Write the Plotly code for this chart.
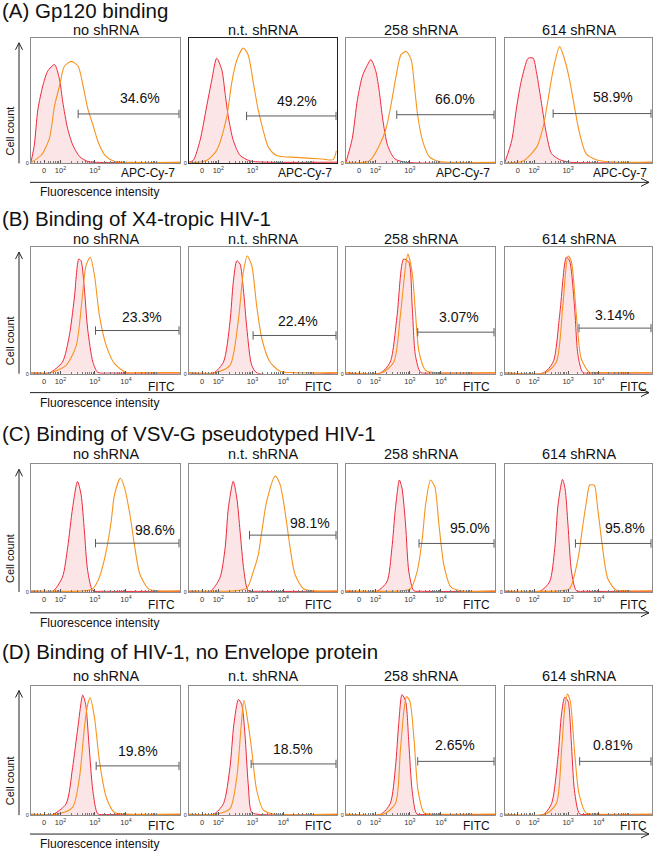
import plotly.graph_objects as go

W, H = 654, 853
FONT = "Arial, 'Liberation Sans', Helvetica, sans-serif"

# ---------------- data ----------------
row_titles = ["(A) Gp120 binding", "(B) Binding of X4-tropic HIV-1",
              "(C) Binding of VSV-G pseudotyped HIV-1",
              "(D) Binding of HIV-1, no Envelope protein"]
col_titles = ["no shRNA", "n.t. shRNA", "258 shRNA", "614 shRNA"]
channels = ["APC-Cy-7", "FITC", "FITC", "FITC"]

tick_vals_a = [1.5, 2.0, 3.05]
tick_text_a = ["0", "10<sup>2</sup>", "10<sup>3</sup>"]
tick_vals_bcd = [1.5, 2.0, 3.05, 4.0]
tick_text_bcd = ["0", "10<sup>2</sup>", "10<sup>3</sup>", "10<sup>4</sup>"]
minor_vals = [1.2, 1.3, 1.38, 1.62, 1.7, 1.78, 1.85, 1.9, 1.95,
              2.35, 2.53, 2.66, 2.75, 2.83, 2.9, 2.95, 3.0,
              3.35, 3.52, 3.64, 3.73, 3.8, 3.86, 3.91, 3.96,
              4.3, 4.48, 4.6, 4.7, 4.77, 4.83, 4.88, 4.93]

# (x position in decades on display scale, % of panel height)
a1_red = [(1.1,1),(1.2,14.4),(1.31,43),(1.46,61.7),(1.61,73.5),(1.82,78.7),(1.97,67),(2.07,49),(2.22,27.6),(2.38,14.4),(2.59,5.3),(2.84,1.5),(3.2,0.8),(5.65,0.8)]
a1_org = [(1.1,0.8),(1.41,6.5),(1.66,19.7),(1.82,46),(1.97,61.7),(2.12,77.4),(2.33,81.3),(2.54,77.4),(2.69,61.7),(2.84,43),(3.0,30),(3.15,17),(3.36,6.5),(3.66,1.5),(4.2,0.8),(5.65,0.8)]
a2_red = [(1.1,1),(1.23,2.4),(1.44,18.4),(1.64,45),(1.8,66.4),(1.95,83.8),(2.11,74.4),(2.21,55.8),(2.31,37),(2.46,18.4),(2.67,6.4),(2.98,2),(3.5,1),(5.65,1)]
a2_org = [(1.1,0.5),(1.64,2.4),(1.95,10.4),(2.26,37),(2.41,63.8),(2.57,82.4),(2.77,91.8),(2.92,86.4),(3.08,63.8),(3.23,42.4),(3.38,26.4),(3.54,13),(3.79,6.4),(4.41,4.8),(5.2,3.5),(5.53,3),(5.63,10)]
a3_red = [(1.1,1),(1.29,19.7),(1.45,51),(1.6,69.5),(1.76,78.7),(1.86,82.7),(2.01,73.5),(2.12,56.5),(2.22,35.4),(2.37,14.4),(2.58,3.9),(2.9,1),(5.65,0.8)]
a3_org = [(1.1,0.5),(1.81,2),(2.12,14.4),(2.32,27.6),(2.47,46),(2.63,69.5),(2.78,86.6),(2.94,89.2),(3.09,82.7),(3.19,61.7),(3.29,38),(3.45,17),(3.65,5.3),(3.96,1.5),(4.5,0.8),(5.65,0.8)]
a4_red = [(1.1,1),(1.31,18.4),(1.46,45),(1.61,66.4),(1.82,83.8),(1.97,83.8),(2.08,71.8),(2.23,47.8),(2.38,23.8),(2.54,7.8),(2.79,3),(3.1,1),(5.65,0.8)]
a4_org = [(1.1,0.5),(1.66,2),(2.08,13),(2.28,29),(2.43,50.4),(2.59,74.4),(2.79,93),(2.95,82.4),(3.1,66.4),(3.25,45),(3.41,23.8),(3.61,7.8),(3.92,3),(4.5,1),(5.65,1)]

b1_red = [(1.1,0.5),(1.65,0.5),(2.06,9.2),(2.27,30),(2.42,59),(2.56,90.6),(2.63,89),(2.73,67),(2.83,35.4),(2.99,9.2),(3.14,1),(3.5,0.5),(5.65,0.5)]
b1_org = [(1.1,0.8),(1.7,0.8),(2.17,6.5),(2.48,22),(2.66,59),(2.78,85.5),(2.91,92),(3.04,77.4),(3.19,45.9),(3.4,22),(3.65,7.9),(4.01,1),(4.5,0.8),(5.65,0.8)]
b2_red = [(1.1,0.5),(1.85,0.5),(2.16,9.2),(2.36,40.7),(2.46,72),(2.57,89.2),(2.67,86.6),(2.77,67),(2.88,35.4),(3.03,6.5),(3.2,0.5),(5.65,0.5)]
b2_org = [(1.1,0.8),(1.9,0.8),(2.36,6.5),(2.61,40.7),(2.77,80),(2.89,93),(3.03,85.3),(3.18,53.8),(3.34,27.6),(3.59,9.2),(3.9,2),(4.3,0.8),(5.65,0.8)]
b3_red = [(1.1,0.5),(2.15,0.5),(2.45,9.2),(2.66,45.9),(2.86,90.6),(3.02,88),(3.12,53.8),(3.22,14.4),(3.38,1),(3.7,0.5),(5.65,0.5)]
b3_org = [(1.1,0.8),(2.2,0.8),(2.56,9.2),(2.76,45.9),(2.92,85.3),(2.99,94.5),(3.12,80),(3.22,48.6),(3.33,17),(3.53,2.6),(3.8,0.8),(5.65,0.8)]
b4_red = [(1.1,0.5),(2.28,0.5),(2.59,9.2),(2.79,45.9),(3.0,92),(3.1,89),(3.25,53.8),(3.36,14.4),(3.51,1),(3.8,0.5),(5.65,0.5)]
b4_org = [(1.1,0.8),(2.35,0.8),(2.69,9.2),(2.89,53.8),(3.05,93),(3.15,89),(3.31,45.9),(3.46,11.8),(3.72,1),(4.0,0.8),(5.65,0.8)]

c1_red = [(1.1,0.5),(1.76,0.5),(2.06,11.6),(2.22,34.9),(2.37,65.9),(2.52,86.6),(2.63,76.2),(2.73,47.8),(2.83,16.8),(2.99,1),(3.3,0.5),(5.65,0.5)]
c1_org = [(1.1,0.8),(2.7,0.8),(2.99,2.6),(3.19,11.6),(3.4,32.3),(3.55,55.6),(3.65,76.2),(3.83,89.1),(3.96,81.4),(4.12,60.7),(4.27,34.9),(4.42,14.2),(4.68,2.6),(5.0,0.8),(5.65,0.8)]
c2_red = [(1.1,0.5),(1.75,0.5),(2.05,11),(2.21,34.5),(2.31,65.8),(2.46,86.7),(2.57,73.6),(2.67,47.6),(2.79,16.2),(2.92,1),(3.2,0.5),(5.65,0.5)]
c2_org = [(1.1,0.8),(2.5,0.8),(2.88,3),(3.08,16.2),(3.23,29.3),(3.34,47.6),(3.49,71.2),(3.75,90.8),(3.9,84.3),(4.05,63.4),(4.21,34.5),(4.36,13.6),(4.62,2.5),(4.9,0.8),(5.65,0.8)]
c3_red = [(1.1,0.5),(2.04,0.5),(2.35,7.9),(2.5,34),(2.61,65.5),(2.73,87.7),(2.81,81.3),(2.92,52.4),(3.02,15.7),(3.17,1),(3.4,0.5),(5.65,0.5)]
c3_org = [(1.1,0.8),(2.8,0.8),(3.07,2.6),(3.27,15.7),(3.43,41.9),(3.53,68.1),(3.68,87.7),(3.81,82.5),(3.94,52.4),(4.09,21),(4.3,3.9),(4.6,0.8),(5.65,0.8)]
c4_red = [(1.1,0.5),(2.18,0.5),(2.48,7.9),(2.64,34),(2.74,68),(2.88,88.2),(2.96,81),(3.05,52.4),(3.16,15.7),(3.31,1),(3.6,0.5),(5.65,0.5)]
c4_org = [(1.1,0.8),(2.8,0.8),(3.1,2.6),(3.36,26),(3.51,52.4),(3.62,70.7),(3.72,83.8),(3.8,84),(3.87,83.5),(3.97,65.5),(4.11,36.7),(4.28,10.5),(4.53,1.5),(4.8,0.8),(5.65,0.8)]

d1_red = [(1.1,0.5),(1.76,0.5),(2.17,8.7),(2.37,36.7),(2.53,67.4),(2.68,92.6),(2.77,85.4),(2.87,54.6),(2.99,18.8),(3.14,1),(3.4,0.5),(5.65,0.5)]
d1_org = [(1.1,0.8),(1.9,0.8),(2.37,6),(2.58,29),(2.73,67.4),(2.83,85.4),(2.91,90.5),(3.04,75),(3.19,41.7),(3.4,13.6),(3.65,2),(4.0,0.8),(5.65,0.8)]
d2_red = [(1.1,0.5),(1.85,0.5),(2.16,8.9),(2.36,37),(2.48,70.2),(2.62,89.3),(2.72,85.5),(2.82,62.5),(2.92,24.2),(3.03,2),(3.3,0.5),(5.65,0.5)]
d2_org = [(1.1,0.8),(1.95,0.8),(2.36,5),(2.57,29.3),(2.7,67.6),(2.79,88.6),(2.92,70.2),(3.03,49.8),(3.18,19.2),(3.39,3.8),(3.7,0.8),(5.65,0.8)]
d3_red = [(1.1,0.5),(2.15,0.5),(2.45,8.9),(2.61,37),(2.71,70.5),(2.81,93),(2.92,88),(3.02,55),(3.12,19),(3.26,1),(3.5,0.5),(5.65,0.5)]
d3_org = [(1.1,0.8),(2.25,0.8),(2.61,8.9),(2.76,50),(2.87,80.8),(2.95,91.5),(3.05,88),(3.18,57.7),(3.3,19),(3.49,1.5),(3.8,0.8),(5.65,0.8)]
d4_red = [(1.1,0.5),(2.28,0.5),(2.54,8.9),(2.74,44.9),(2.85,78.2),(2.95,91),(3.05,88),(3.15,57.7),(3.25,19),(3.41,1),(3.7,0.5),(5.65,0.5)]
d4_org = [(1.1,0.8),(2.35,0.8),(2.69,8.9),(2.85,50),(2.95,83),(3.03,93.5),(3.12,88),(3.25,50),(3.39,16.6),(3.61,1.5),(3.9,0.8),(5.65,0.8)]

red_curves = [[a1_red, a2_red, a3_red, a4_red], [b1_red, b2_red, b3_red, b4_red],
              [c1_red, c2_red, c3_red, c4_red], [d1_red, d2_red, d3_red, d4_red]]
org_curves = [[a1_org, a2_org, a3_org, a4_org], [b1_org, b2_org, b3_org, b4_org],
              [c1_org, c2_org, c3_org, c4_org], [d1_org, d2_org, d3_org, d4_org]]

gate_end = 5.62
gate_start = [[2.54, 2.87, 2.65, 2.59], [3.07, 3.07, 3.29, 3.39],
              [3.07, 2.96, 3.33, 3.28], [3.09, 3.01, 3.29, 3.41]]
gate_y = [[39.4, 37.8, 38.8, 39.7], [34.1, 30.2, 32.8, 36.0],
          [38.2, 44.5, 38.0, 38.0], [38.0, 39.5, 41.5, 41.5]]
pct_text = [["34.6%", "49.2%", "66.0%", "58.9%"], ["23.3%", "22.4%", "3.07%", "3.14%"],
            ["98.6%", "98.1%", "95.0%", "95.8%"], ["19.8%", "18.5%", "2.65%", "0.81%"]]
pct_x = [[4.42, 4.41, 4.42, 4.43], [4.48, 4.46, 4.55, 4.49],
         [4.88, 4.82, 4.89, 4.81], [4.37, 4.31, 4.42, 4.43]]
pct_y = [[52, 50, 51.7, 52.6], [45.1, 42, 44.6, 46.5],
         [48.3, 54, 50.3, 50.3], [49.5, 51, 53.8, 53.8]]

# ---------------- layout geometry (pixels) ----------------
row_box = [(38, 164), (248, 375), (466, 594), (688, 818)]
col_box = [(31, 180), (189, 337), (346, 495), (505, 652)]
title_y = [11, 219, 435, 654]
sub_y = [30, 240, 456, 678]
chan_y = [174, 388, 607, 829]
axisline_y = [183, 394, 615, 837]
fl_y = [193, 404, 625, 847]

RED = "#ec2a3a"
ORANGE = "#f7931e"
FILL = "rgba(236,110,120,0.18)"
GATE = "#5a5a5a"
BOX = "#8c8c8c"

def px(x):
    return x / W

def py(y):
    return 1 - y / H

fig = go.Figure()
layout = dict(width=W, height=H, margin=dict(l=0, r=0, t=0, b=0),
              paper_bgcolor="white", plot_bgcolor="white", showlegend=False,
              font=dict(family=FONT, color="#111"))
annotations = []
shapes = []

for r in range(4):
    for c in range(4):
        i = r * 4 + c + 1
        xa = "x" if i == 1 else f"x{i}"
        ya = "y" if i == 1 else f"y{i}"
        xk = "xaxis" if i == 1 else f"xaxis{i}"
        yk = "yaxis" if i == 1 else f"yaxis{i}"
        x0, x1 = col_box[c]
        t, b = row_box[r]
        lc = "#222" if (r == 0 and c == 1) else BOX
        tv = tick_vals_a if r == 0 else tick_vals_bcd
        tt = tick_text_a if r == 0 else tick_text_bcd
        layout[xk] = dict(domain=[px(x0), px(x1)], range=[1.1, 5.65], anchor=ya,
                          showline=True, mirror=True, linecolor=lc, linewidth=1,
                          showgrid=False, zeroline=False, tickmode="array",
                          tickvals=tv, ticktext=tt, tickfont=dict(size=7.5, color="#333"),
                          ticks="inside", ticklen=3, tickcolor="#555",
                          minor=dict(tickmode="array", tickvals=minor_vals, ticks="inside",
                                     ticklen=2, tickcolor="#777"))
        layout[yk] = dict(domain=[py(b), py(t)], range=[0, 100], anchor=xa,
                          showline=True, mirror=True, linecolor=lc, linewidth=1,
                          showgrid=False, zeroline=False, tickmode="array",
                          tickvals=[0], ticktext=["0"], tickfont=dict(size=5.5, color="#333"),
                          ticks="")
        rc = red_curves[r][c]
        oc = org_curves[r][c]
        fig.add_trace(go.Scatter(x=[p[0] for p in rc], y=[p[1] for p in rc], mode="lines",
                                 line=dict(color=RED, width=1, shape="spline", smoothing=0.7),
                                 fill="tozeroy", fillcolor=FILL, xaxis=xa, yaxis=ya,
                                 hoverinfo="skip"))
        fig.add_trace(go.Scatter(x=[p[0] for p in oc], y=[p[1] for p in oc], mode="lines",
                                 line=dict(color=ORANGE, width=1.1, shape="spline", smoothing=0.7),
                                 xaxis=xa, yaxis=ya, hoverinfo="skip"))
        fig.add_trace(go.Scatter(x=[gate_start[r][c], gate_end], y=[gate_y[r][c]] * 2,
                                 mode="lines+markers", line=dict(color=GATE, width=1),
                                 marker=dict(symbol="line-ns", size=6,
                                             line=dict(color=GATE, width=1)),
                                 xaxis=xa, yaxis=ya, hoverinfo="skip"))
        annotations.append(dict(x=pct_x[r][c], y=pct_y[r][c], xref=xa, yref=ya,
                                text=pct_text[r][c], showarrow=False,
                                xanchor="center", yanchor="middle",
                                font=dict(size=14, color="#111")))
        annotations.append(dict(x=px((x0 + x1) / 2), y=py(sub_y[r]), xref="paper", yref="paper",
                                text=col_titles[c], showarrow=False, xanchor="center",
                                yanchor="middle", font=dict(size=14.5, color="#111")))
        annotations.append(dict(x=px(x1 - 3), y=py(chan_y[r]), xref="paper", yref="paper",
                                text=channels[r], showarrow=False, xanchor="right",
                                yanchor="middle", font=dict(size=12, color="#111")))
    # row title
    annotations.append(dict(x=0, y=py(title_y[r]), xref="paper", yref="paper",
                            text=row_titles[r], showarrow=False, xanchor="left",
                            yanchor="middle", font=dict(size=20.5, color="#111")))
    # cell count
    t, b = row_box[r]
    annotations.append(dict(x=px(10), y=py((t + b) / 2 + 31), xref="paper", yref="paper",
                            text="Cell count", showarrow=False, textangle=-90,
                            xanchor="center", yanchor="middle",
                            font=dict(size=11, color="#111")))
    annotations.append(dict(x=px(38), y=py(fl_y[r]), xref="paper", yref="paper",
                            text="Fluorescence intensity", showarrow=False, xanchor="left",
                            yanchor="middle", font=dict(size=12, color="#111")))
    # vertical arrow
    top = t + 5
    shapes.append(dict(type="line", xref="paper", yref="paper", x0=px(19), x1=px(19),
                       y0=py(b), y1=py(top), line=dict(color="#222", width=1)))
    shapes.append(dict(type="line", xref="paper", yref="paper", x0=px(15.5), x1=px(19),
                       y0=py(top + 7), y1=py(top), line=dict(color="#222", width=1)))
    shapes.append(dict(type="line", xref="paper", yref="paper", x0=px(22.5), x1=px(19),
                       y0=py(top + 7), y1=py(top), line=dict(color="#222", width=1)))
    # horizontal arrow
    ay = axisline_y[r]
    shapes.append(dict(type="line", xref="paper", yref="paper", x0=px(30), x1=px(649),
                       y0=py(ay), y1=py(ay), line=dict(color="#222", width=1)))
    shapes.append(dict(type="line", xref="paper", yref="paper", x0=px(641), x1=px(649),
                       y0=py(ay - 4), y1=py(ay), line=dict(color="#222", width=1)))
    shapes.append(dict(type="line", xref="paper", yref="paper", x0=px(641), x1=px(649),
                       y0=py(ay + 4), y1=py(ay), line=dict(color="#222", width=1)))

layout["annotations"] = annotations
layout["shapes"] = shapes
fig.update_layout(**layout)

fig.write_html("out.html", config={"displayModeBar": False},
               post_script="document.body.style.margin='0px';")
